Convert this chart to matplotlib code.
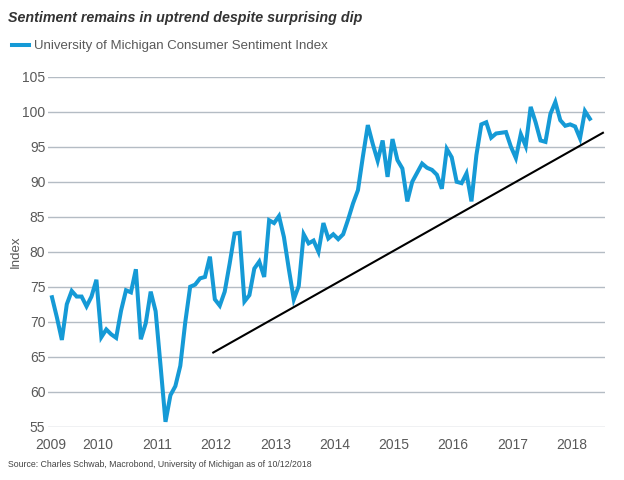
import numpy as np
import matplotlib
matplotlib.use('Agg')
import matplotlib.pyplot as plt

# University of Michigan Consumer Sentiment, monthly, Sep 2009 - Oct 2018
start_year, start_month = 2009, 9
sentiment = [
	73.5, 70.6, 67.4, 72.5,                                                     # 2009 Sep-Dec
	74.4, 73.6, 73.6, 72.2, 73.6, 76.0, 67.8, 68.9, 68.2, 67.7, 71.6, 74.5,     # 2010
	74.2, 77.5, 67.5, 69.8, 74.3, 71.5, 63.7, 55.7, 59.5, 60.8, 63.7, 69.9,     # 2011
	75.0, 75.3, 76.2, 76.4, 79.3, 73.2, 72.3, 74.3, 78.3, 82.6, 82.7, 72.9,     # 2012
	73.8, 77.6, 78.6, 76.4, 84.5, 84.1, 85.1, 82.1, 77.5, 73.2, 75.1, 82.5,     # 2013
	81.2, 81.6, 80.0, 84.1, 81.9, 82.5, 81.8, 82.5, 84.6, 86.9, 88.8, 93.6,     # 2014
	98.1, 95.4, 93.0, 95.9, 90.7, 96.1, 93.1, 91.9, 87.2, 90.0, 91.3, 92.6,     # 2015
	92.0, 91.7, 91.0, 89.0, 94.7, 93.5, 90.0, 89.8, 91.2, 87.2, 93.8, 98.2,     # 2016
	98.5, 96.3, 96.9, 97.0, 97.1, 95.0, 93.4, 96.8, 95.1, 100.7, 98.5, 95.9,    # 2017
	95.7, 99.7, 101.4, 98.8, 98.0, 98.2, 97.9, 96.2, 100.1, 99.0,               # 2018 Jan-Oct
]

# uptrend line end points (decimal year, index)
trend_x = [2012.39, 2018.97]
trend_y = [65.6, 97.0]

year_labels = ['2009', '2010', '2011', '2012', '2013', '2014', '2015', '2016', '2017', '2018']
year_pos = [2009.64] + [y + 0.44 for y in range(2010, 2019)]
y_ticks = [55, 60, 65, 70, 75, 80, 85, 90, 95, 100, 105]

plt.rcParams['font.family'] = ['Liberation Sans', 'DejaVu Sans']

months = np.arange(len(sentiment))
dates = start_year + (start_month - 1) / 12 + months / 12

fig = plt.figure(figsize=(6.24, 4.8), dpi=100)
ax = fig.add_axes([0.077, 0.111, 0.893, 0.729])

blue = '#159ad6'
gray = '#595959'

ax.plot(dates, sentiment, color=blue, lw=2.9, solid_joinstyle='miter', zorder=3,
		label='University of Michigan Consumer Sentiment Index')
ax.plot(trend_x, trend_y, color='black', lw=1.5, zorder=4)

ax.set_xlim(2009.6, 2019.01)
ax.set_ylim(55, 105)
ax.set_yticks(y_ticks)
ax.set_xticks(year_pos)
ax.set_xticklabels(year_labels)
ax.grid(axis='y', color='#b4bcc4', lw=1.0)
ax.set_axisbelow(True)
for s in ax.spines.values():
	s.set_visible(False)
ax.tick_params(axis='both', length=0, labelsize=10, colors=gray)
ax.tick_params(axis='x', pad=8)
ax.tick_params(axis='y', pad=2)
ax.set_ylabel('Index', fontsize=9.5, color=gray, labelpad=0)

fig.text(0.013, 0.962, 'Sentiment remains in uptrend despite surprising dip',
		 fontsize=10.3, fontweight='bold', fontstyle='italic', color='#333333', va='center')
ax.legend(loc='upper left', bbox_to_anchor=(-0.075, 1.12), frameon=False,
		  fontsize=9.5, labelcolor=gray, handlelength=1.3, handletextpad=0.4,
		  borderaxespad=0)
fig.text(0.013, 0.033, 'Source: Charles Schwab, Macrobond, University of Michigan as of 10/12/2018',
		 fontsize=6.3, color='#444444', va='center')

plt.savefig('out.png', dpi=100)
